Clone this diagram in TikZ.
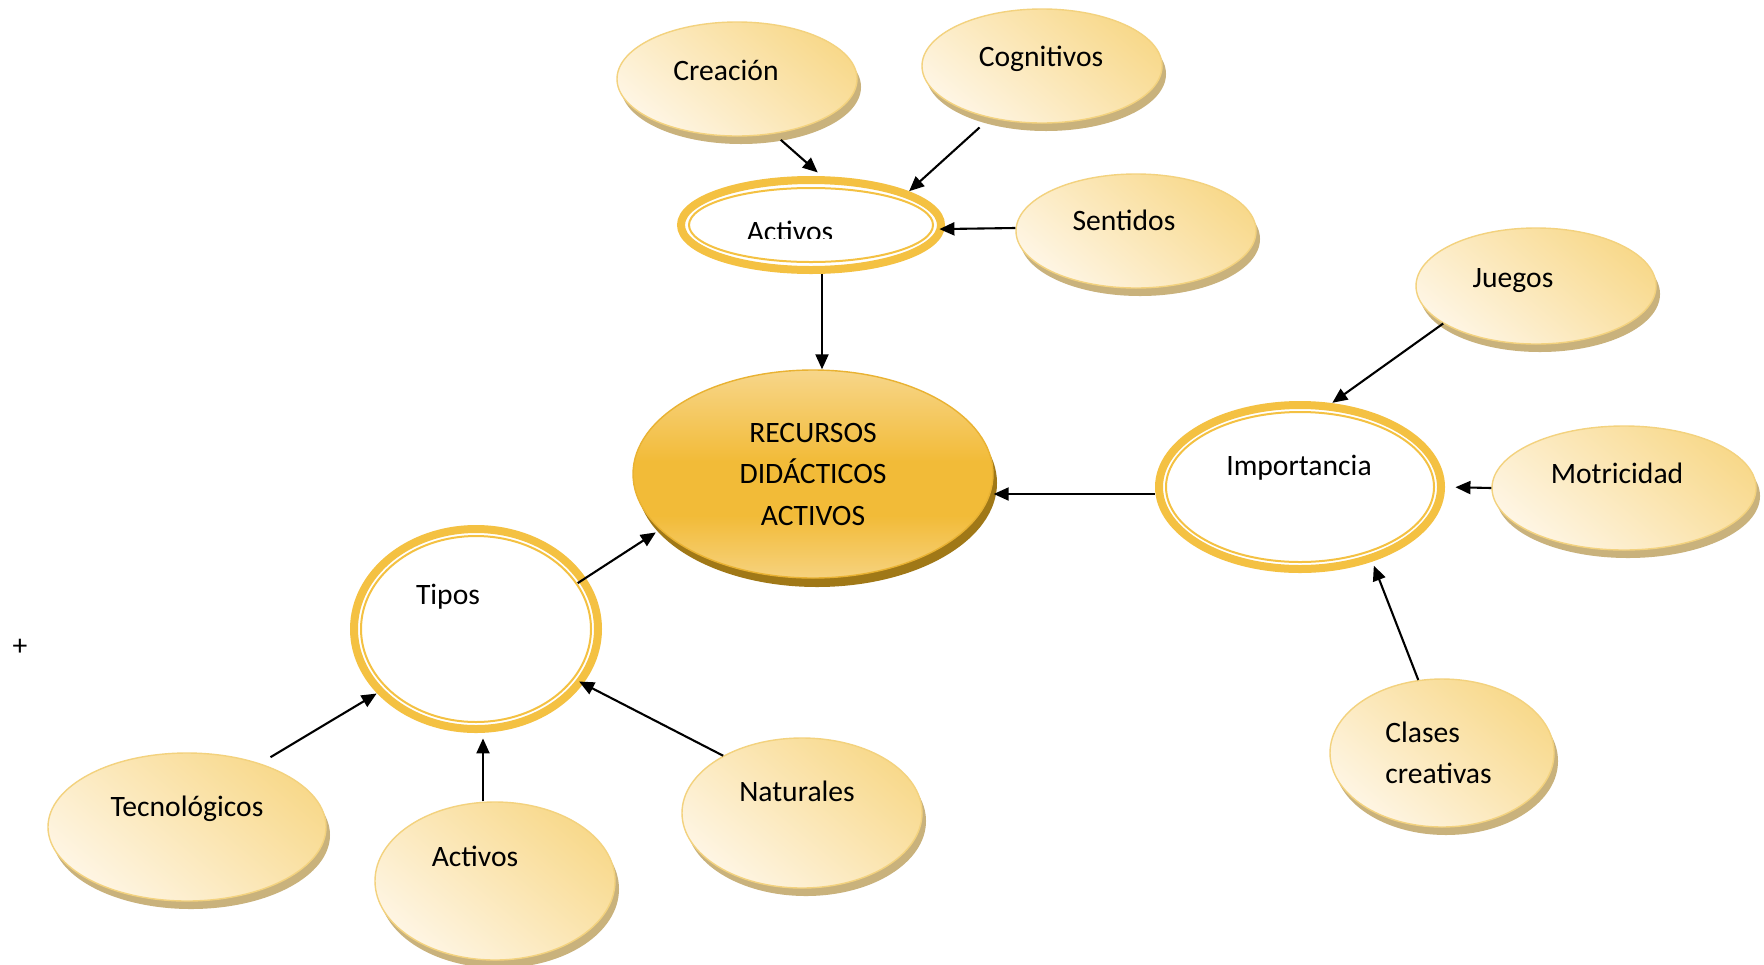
\documentclass[tikz,border=0pt]{standalone}
\usepackage{fontspec}
\setmainfont{Carlito}
\usetikzlibrary{shapes.geometric,arrows.meta,shadows}
\definecolor{ringgold}{HTML}{F4C142}
\definecolor{lightedge}{HTML}{F3D27E}
\definecolor{lightdark}{HTML}{F8D98C}
\definecolor{lightpale}{HTML}{FEF5E3}
\definecolor{shadowtan}{HTML}{C9B27C}
\definecolor{rectop}{HTML}{F7D68A}
\definecolor{recmid}{HTML}{F2BB38}
\definecolor{recbot}{HTML}{F6D27E}
\definecolor{recedge}{HTML}{E9B232}
\definecolor{recshadow}{HTML}{A07817}
\pgfdeclareverticalshading{recshade}{100bp}{color(0bp)=(recbot); color(25bp)=(recbot); color(40bp)=(recmid); color(53bp)=(recmid); color(75bp)=(rectop); color(100bp)=(rectop)}
\begin{document}
\begin{tikzpicture}[x=0.5pt,y=-0.5pt,
  lightell/.style={ellipse, draw=lightedge, line width=0.7pt, top color=lightdark, bottom color=lightpale, shading angle=-40, inner sep=0pt, general shadow={fill=shadowtan, shadow xshift=2pt, shadow yshift=-4pt}},
  mainell/.style={ellipse, draw=recedge, line width=0.7pt, shading=recshade, inner sep=0pt, general shadow={fill=recshadow, shadow xshift=2pt, shadow yshift=-4.5pt}},
  ringell/.style={ellipse, inner sep=0pt},
  thickring/.style={draw=ringgold, line width=4pt},
  thinring/.style={draw=ringgold, line width=1pt},
  txt/.style={font=\fontsize{14.8}{20.75}\selectfont, inner sep=0pt, text=black},
  arr/.style={-{Triangle[length=7.5pt,width=6.5pt]}, line width=1.05pt, black}]

\useasboundingbox (0,0) rectangle (1764,964);
\fill[white] (0,0) rectangle (1764,964);

% light ellipses
\node[lightell, minimum width=120pt, minimum height=57pt] (crea) at (737,79) {};
\node[lightell, minimum width=120pt, minimum height=57pt] (cog) at (1042,66) {};
\node[lightell, minimum width=120pt, minimum height=57pt] (sen) at (1136,231) {};
\node[lightell, minimum width=120pt, minimum height=58pt] (jue) at (1536,286) {};
\node[lightell, minimum width=132pt, minimum height=62pt] (mot) at (1624,488) {};
\node[lightell, minimum width=112pt, minimum height=74pt] (cla) at (1442,753) {};
\node[lightell, minimum width=139pt, minimum height=74pt] (tec) at (187,827) {};
\node[lightell, minimum width=120pt, minimum height=79pt] (ac2) at (495,881) {};
\node[lightell, minimum width=120pt, minimum height=75pt] (nat) at (802,813) {};

% main ellipse
\node[mainell, minimum width=180pt, minimum height=104pt] (rec) at (813,474) {};

% ring ellipses
\node[ringell, minimum width=134pt, minimum height=49pt] (act) at (811,225) {};
\node[ringell, minimum width=145pt, minimum height=86pt] (imp) at (1300,487) {};
\node[ringell, minimum width=126pt, minimum height=104pt] (tip) at (476,629) {};

\draw[thickring] (act.center) ellipse [x radius=65pt, y radius=22.5pt];
\draw[thinring] (act.center) ellipse [x radius=61pt, y radius=18.5pt];
\draw[thickring] (imp.center) ellipse [x radius=70.5pt, y radius=41pt];
\draw[thinring] (imp.center) ellipse [x radius=67pt, y radius=37.5pt];
\draw[thickring] (tip.center) ellipse [x radius=61pt, y radius=50pt];
\draw[thinring] (tip.center) ellipse [x radius=57.5pt, y radius=46.5pt];

% texts
\node[txt, anchor=base] (creaT) at (726,80) {Creación};
\node[txt, anchor=base] (cogT) at (1041,66) {Cognitivos};
\node[txt, anchor=base] (senT) at (1124,230) {Sentidos};
\begin{scope}
\clip (680,190) rectangle (940,238);
\node[txt, anchor=base] (actT) at (790,241) {Activos};
\end{scope}
\node[txt, anchor=base] (jueT) at (1513,287) {Juegos};
\node[txt, anchor=base] (impT) at (1299,475) {Importancia};
\node[txt, anchor=base] (motT) at (1617,483) {Motricidad};
\node[txt, anchor=west, align=left] (claT) at (1385,753) {Clases\\creativas};
\node[txt, align=center] (recT) at (813,474) {RECURSOS\\DIDÁCTICOS\\ACTIVOS};
\node[txt, anchor=base] (tipT) at (448,604) {Tipos};
\node[txt, anchor=base] (tecT) at (187,816) {Tecnológicos};
\node[txt, anchor=base] (ac2T) at (475,866) {Activos};
\node[txt, anchor=base] (natT) at (797,801) {Naturales};
\node[txt] (plus) at (20,647) {+};

% connectors
\draw[arr, shorten <=4.5pt, shorten >=2.5pt] (crea.-56) -- (act.78);
\draw[arr, shorten <=7pt] (cog.-135) -- (act.19);
\draw[arr, shorten >=-3pt] ([yshift=1.5pt]sen.west) -- ([yshift=-2pt]act.east);
\draw[arr] ([xshift=5.5pt]act.south) -- ([xshift=4.5pt]rec.north);
\draw[arr] (jue.-158.6) -- (imp.69);
\draw[arr, shorten >=5pt] (mot.west) -- (imp.east);
\draw[arr, shorten >=2pt] (cla.108) -- (imp.-46.5);
\draw[arr] ([yshift=-3.5pt]imp.west) -- ([yshift=-10pt]rec.east);
\draw[arr, shorten <=-5pt, shorten >=2.5pt] (tip.25) -- (rec.-160);
\draw[arr, shorten <=6pt] (tec.41.3) -- (tip.-147.8);
\draw[arr, shorten >=2.5pt] ([xshift=-6pt]ac2.north) -- ([xshift=3.5pt]tip.south);
\draw[arr, shorten >=-2.5pt] (nat.144.5) -- (tip.-27);
\end{tikzpicture}
\end{document}
